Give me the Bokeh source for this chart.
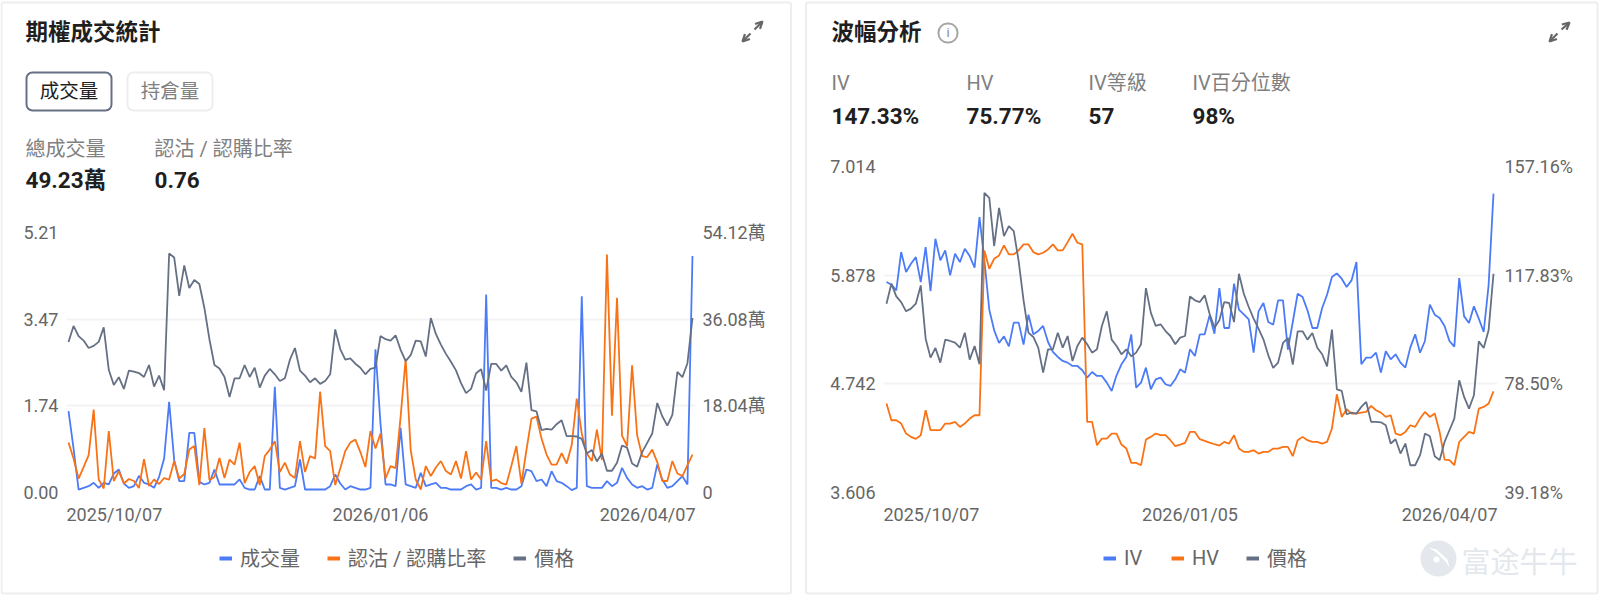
from bokeh.plotting import figure
from bokeh.models import (Range1d, LinearAxis, FixedTicker, Label, Legend, LegendItem,
                          Arrow, OpenHead, PolyAnnotation, BoxAnnotation)
from bokeh.embed import file_html
from bokeh.resources import INLINE

# ---------- data ----------
price = [5.58,5.789,5.656,5.597,5.50,5.528,5.58,5.771,5.214,5.016,5.117,4.964,5.204,5.19,5.172,5.12,5.277,4.995,5.138,4.946,
         6.739,6.687,6.182,6.582,6.286,6.391,6.339,6.025,5.615,5.277,5.232,5.12,4.859,5.103,5.103,5.277,5.12,5.242,4.981,5.138,
         5.225,5.155,5.068,5.103,5.347,5.50,5.204,5.138,5.051,5.103,5.03,5.068,5.155,5.743,5.486,5.347,5.364,5.294,5.242,5.155,
         5.225,5.242,5.656,5.615,5.597,5.667,5.475,5.329,5.406,5.597,5.587,5.388,5.893,5.684,5.545,5.423,5.319,5.207,5.04,4.908,
         4.964,5.169,5.221,4.943,5.291,5.291,5.204,5.273,5.12,5.051,4.925,5.308,4.685,4.668,4.424,4.441,4.431,4.501,4.553,4.344,
         4.344,4.34,4.309,4.118,4.163,4.013,4.118,3.891,3.891,3.996,4.222,4.194,3.985,3.944,4.135,4.257,4.379,4.779,4.605,4.483,
         4.622,5.186,5.117,5.301,5.893]
iv = [115.34,114.38,112.33,126.19,118.96,121.97,124.38,115.34,128.0,112.09,131.01,123.18,126.79,117.75,125.59,122.57,127.39,124.74,120.52,138.84,
      123.18,105.34,97.87,93.29,95.7,92.08,100.64,100.64,92.68,103.53,96.42,97.63,99.44,93.65,90.04,88.23,86.78,86.18,84.97,84.97,
      83.41,80.76,82.8,81.36,81.36,78.95,75.94,81.6,85.58,88.23,96.42,77.14,78.95,84.37,76.54,80.15,80.76,78.35,77.74,80.15,
      83.77,82.56,91.0,88.59,96.42,96.42,103.29,96.66,113.17,98.71,98.71,114.74,105.34,103.65,101.85,89.79,104.74,107.75,100.88,99.92,
      108.71,108.71,90.88,100.88,111.12,109.92,105.1,98.71,98.71,105.94,110.76,117.15,118.48,116.55,113.53,115.94,122.57,85.58,87.99,87.99,
      89.79,82.56,90.28,87.38,89.19,86.18,84.37,91.6,96.42,89.79,94.01,107.15,103.53,102.33,99.44,94.01,91.96,116.79,102.93,100.52,
      106.55,102.09,97.27,114.14,147.33]
hv = [71.36,65.33,65.33,64.13,60.51,59.31,58.58,59.91,68.95,61.72,61.72,61.72,64.13,64.13,64.73,62.92,64.13,65.93,67.14,67.14,
      126.79,120.16,123.78,124.98,128.6,125.34,125.34,126.79,128.96,128.96,126.19,125.34,125.95,127.15,128.96,126.79,126.79,129.8,132.82,129.56,
      128.96,64.73,64.73,56.29,58.7,58.7,60.51,60.51,56.53,55.09,49.91,49.91,49.06,58.34,59.31,60.51,59.91,59.91,58.1,55.93,
      56.53,57.14,61.11,61.11,58.46,57.86,57.26,56.65,56.17,57.5,56.89,59.91,55.09,53.88,53.88,54.48,53.28,53.88,53.88,55.09,
      55.09,55.69,55.69,52.32,58.1,59.31,58.1,57.5,57.5,56.89,57.5,62.32,74.73,66.54,69.31,67.74,67.74,68.1,68.34,70.51,
      68.95,68.1,66.54,67.14,60.51,59.91,61.11,63.52,62.92,65.93,68.34,66.54,67.74,61.11,51.11,50.87,49.06,57.5,59.31,61.11,
      60.51,69.55,70.15,71.36,75.77]
ratio = [1.00,.68,.28,.51,.75,1.66,.26,.08,1.23,.23,.43,.18,.27,.23,.09,.67,.13,.26,.17,.29,
         .26,.63,.28,.37,.86,.93,.15,1.29,.25,.31,.69,.29,.66,.56,1.0,.19,.41,.53,.15,.73,
         .86,1.03,.41,.60,.36,.29,1.03,.41,.73,.68,2.02,.93,.83,.15,.48,.83,1.0,1.06,.81,.51,
         1.23,.88,1.18,.28,.53,.49,1.52,2.68,.85,.26,.06,.53,.33,.50,.63,.43,.36,.63,.28,.83,
         .26,.40,.26,1.03,.23,.26,.19,.16,.53,.93,.18,.85,1.48,1.52,1.08,.76,.56,.56,.79,.58,
         .95,1.88,1.18,.78,.63,1.26,.65,4.77,1.54,3.90,1.14,.93,2.55,1.15,.73,.71,.86,.61,.23,.23,
         .63,.38,.33,.55,.76]
volume = [16.93,9.16,.62,.97,1.32,2.01,.97,2.01,1.67,3.95,4.79,1.87,.97,1.32,3.47,2.01,1.67,.97,3.26,7.08,
          18.87,6.73,2.36,2.36,12.42,12.42,2.22,1.67,2.01,4.79,1.67,1.67,1.67,1.67,2.71,.97,.62,.62,3.4,.62,
          .62,21.99,.97,.62,.97,1.32,6.87,.62,.62,.62,.62,.62,1.32,3.75,1.87,.62,1.32,.97,.62,.62,
          .97,29.83,14.36,1.67,1.67,1.32,13.46,1.67,1.32,.97,4.09,1.32,1.67,2.01,.97,.97,.62,.62,.62,1.32,
          1.67,.62,.97,41.21,.97,.97,.62,.97,.62,.62,1.32,4.79,4.44,2.36,2.71,1.32,4.44,2.36,2.01,1.32,
          .49,.97,40.87,1.32,.97,.97,.97,2.36,1.32,2.01,5.13,3.05,1.67,.97,1.32,.62,.97,5.83,2.71,.97,
          1.32,2.36,3.4,1.67,49.23]

left_ticks = [0.0, 1.74, 3.47, 5.21]
left_tick_labels = ["0.00", "1.74", "3.47", "5.21"]
vol_ticks = [0.0, 18.04, 36.08, 54.12]
vol_tick_labels = ["0", "18.04萬", "36.08萬", "54.12萬"]
price_ticks = [3.606, 4.742, 5.878, 7.014]
price_tick_labels = ["3.606", "4.742", "5.878", "7.014"]
vola_ticks = [39.18, 78.50, 117.83, 157.16]
vola_tick_labels = ["39.18%", "78.50%", "117.83%", "157.16%"]
left_dates = ["2025/10/07", "2026/01/06", "2026/04/07"]
right_dates = ["2025/10/07", "2026/01/05", "2026/04/07"]
mid_index = 62

# ---------- style ----------
FONT = "Roboto, 'Noto Sans CJK TC'"
BLUE, ORANGE, GREY = "#4c7bf8", "#f97316", "#667085"
TXT, SUB, TICK = "#1f1f1f", "#808080", "#666666"
W, H = 1600, 595
F_BOTTOM = 492
xs = list(range(len(price)))


def pin(p, left, z):
    p.styles = {"position": "absolute", "left": f"{left}px", "top": "0px", "z-index": str(z)}


def chart(width, left, ml, mr, mt, xr, yr, extras):
    p = figure(width=width, height=H, output_backend="svg", toolbar_location=None, tools="",
               x_range=Range1d(*xr), y_range=Range1d(*yr), x_axis_location=None, y_axis_location="left",
               min_border_left=ml, min_border_right=mr, min_border_top=mt, min_border_bottom=H - F_BOTTOM)
    p.outline_line_color = None
    p.xgrid.visible = False
    p.extra_y_ranges = extras
    p.border_fill_color = None
    pin(p, left, 1)
    return p


def style_axis(ax, ticks, labels, standoff):
    ax.ticker = FixedTicker(ticks=ticks)
    ax.major_label_overrides = dict(zip(ticks, labels))
    ax.axis_line_color = None
    ax.major_tick_line_color = None
    ax.minor_tick_line_color = None
    ax.major_tick_out = 0
    ax.major_tick_in = 0
    ax.minor_tick_out = 0
    ax.minor_tick_in = 0
    ax.major_label_standoff = standoff
    ax.major_label_text_font = FONT
    ax.major_label_text_font_size = "18px"
    ax.major_label_text_color = TICK


def style_grid(p, ticks):
    p.ygrid.ticker = FixedTicker(ticks=ticks)
    p.ygrid.grid_line_color = "#f3f3f3"
    p.ygrid.grid_line_width = 2


# ---------- left panel ----------
xr1 = (-0.4, 124.6)
p1 = chart(798, 0, 66, 103, 232, xr1, (0, 5.21), {"vol": Range1d(0, 54.12), "price": Range1d(3.606, 7.014)})
style_axis(p1.yaxis[0], left_ticks, left_tick_labels, 8)
vax = LinearAxis(y_range_name="vol")
style_axis(vax, vol_ticks, vol_tick_labels, 7)
p1.add_layout(vax, "right")
style_grid(p1, left_ticks)
p1.line(xs, volume, y_range_name="vol", line_color=BLUE, line_width=1.8)
p1.line(xs, ratio, line_color=ORANGE, line_width=1.8)
p1.line(xs, price, y_range_name="price", line_color=GREY, line_width=1.8)

# ---------- right panel ----------
xr2 = (-0.61, 124.82)
p2 = chart(802, 798, 85, 103, 166, xr2, (3.606, 7.014), {"vola": Range1d(39.18, 157.16)})
style_axis(p2.yaxis[0], price_ticks, price_tick_labels, 8)
wax = LinearAxis(y_range_name="vola")
style_axis(wax, vola_ticks, vola_tick_labels, 7)
p2.add_layout(wax, "right")
style_grid(p2, price_ticks)
p2.line(xs, iv, y_range_name="vola", line_color=BLUE, line_width=1.8)
p2.line(xs, hv, y_range_name="vola", line_color=ORANGE, line_width=1.8)
p2.line(xs, price, line_color=GREY, line_width=1.8)

# ---------- overlay: headers, cards, dates, legends (its data units are page pixels) ----------
ov = figure(width=W, height=H, output_backend="svg", toolbar_location=None, tools="",
            x_range=Range1d(0, W), y_range=Range1d(H, 0), x_axis_location=None, y_axis_location=None,
            min_border=0, min_border_left=0, min_border_right=0, min_border_top=0, min_border_bottom=0)
ov.outline_line_color = None
ov.grid.visible = False
ov.background_fill_color = None
ov.border_fill_color = None
pin(ov, 0, 10)


def text(x, y, t, size, color=TXT, bold=False, align="left", font=FONT):
    ov.add_layout(Label(x=x, y=y, text=t, text_font=font, text_font_size=f"{size}px", text_color=color,
                        text_font_style="bold" if bold else "normal", text_align=align, text_baseline="middle"))


def box(l, t, r, b, line=None, fill=None, width=2, radius=0):
    ov.add_layout(BoxAnnotation(left=l, right=r, top=t, bottom=b, line_color=line, line_width=width, line_alpha=1,
                                fill_color=fill, fill_alpha=1 if fill else 0, border_radius=radius))


def arrow(x0, y0, x1, y1):
    ov.add_layout(Arrow(end=OpenHead(size=7, line_color=TICK, line_width=2.2), x_start=x0, y_start=y0,
                        x_end=x1, y_end=y1, line_color=TICK, line_width=2.2))


def legend(items, x, y_bottom=572):
    its = []
    for name, col in items:
        # proxy line kept off the canvas: only its legend swatch shows
        proxy = ov.line([-20, -10], [-20, -10], line_color=col, line_width=4)
        its.append(LegendItem(label=name, renderers=[proxy]))
    ov.add_layout(Legend(items=its, orientation="horizontal", location=(x, H - y_bottom), margin=0, padding=0,
                         spacing=27, glyph_width=13, glyph_height=20, label_height=20, label_standoff=8,
                         border_line_color=None, background_fill_alpha=0,
                         label_text_font=FONT, label_text_font_size="20px", label_text_color=TICK), "center")


def dates(texts, fl, fr, xr):
    mid = fl + (mid_index - xr[0]) * (fr - fl) / (xr[1] - xr[0])
    for t, xp, al in zip(texts, (fl, mid, fr), ("left", "center", "right")):
        text(xp, 514, t, 18, color=TICK, align=al)


box(1, 2, 790.5, 593, line="#eeeeee", radius=2)
box(805.5, 2, 1597, 593, line="#eeeeee", radius=2)

text(25, 31, "期權成交統計", 22.5, bold=True)
box(26, 72, 111, 110, line="#667085", radius=6)
text(68.5, 91, "成交量", 19.5, align="center")
box(127, 72, 212, 110, line="#eeeeee", radius=6)
text(169.5, 91, "持倉量", 19.5, color=SUB, align="center")
text(25, 148, "總成交量", 20, color=SUB)
text(154, 148, "認沽 / 認購比率", 20, color=SUB)
text(25, 179, "49.23萬", 22.5, bold=True)
text(154, 179, "0.76", 22.5, bold=True)
arrow(754, 29, 762, 21)
arrow(750, 33, 742, 41)
dates(left_dates, 66, 695, xr1)
legend([("成交量", BLUE), ("認沽 / 認購比率", ORANGE), ("價格", GREY)], 219)

text(831, 31, "波幅分析", 22.5, bold=True)
box(938, 23, 957, 42, line="#a6a6a6", width=2, radius=9)
text(947.5, 32, "i", 13, color="#8c8c8c", align="center")
for lx, lt, vt in ((831, "IV", "147.33%"), (966, "HV", "75.77%"), (1088, "IV等級", "57"), (1192, "IV百分位數", "98%")):
    text(lx, 82, lt, 20, color=SUB)
    text(lx, 115, vt, 22.5, bold=True)
arrow(1561, 29, 1569, 22)
arrow(1557, 33, 1549, 41)
dates(right_dates, 883, 1497, xr2)
legend([("IV", BLUE), ("HV", ORANGE), ("價格", GREY)], 1103)

# watermark
box(1420, 540, 1456, 576, fill="#e4e8ec", radius=18)
box(1433, 556, 1439, 562, fill="#ffffff", radius=3)
ov.add_layout(PolyAnnotation(xs=[1428, 1436, 1447, 1449, 1445, 1436], ys=[547, 549, 559, 567, 561, 552],
                             line_color=None, fill_color="#ffffff", fill_alpha=1))
text(1461, 559, "富途牛牛", 29, color="#e4e8ec", font="'Noto Sans CJK SC'")

open("out.html", "w").write(file_html((p1, p2, ov), INLINE))
